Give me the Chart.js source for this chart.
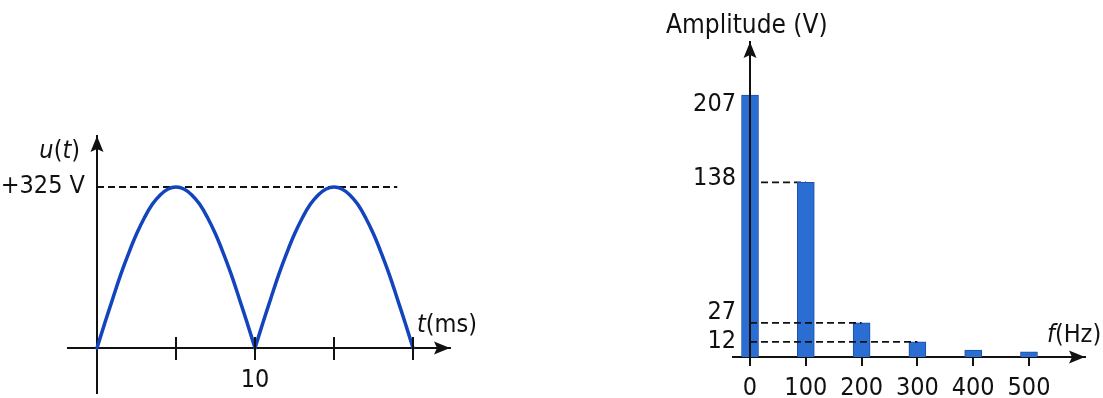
<!DOCTYPE html>
<html><head><meta charset="utf-8">
<script src="https://cdn.jsdelivr.net/npm/chart.js@4/dist/chart.umd.min.js"></script>
<style>
html,body{margin:0;padding:0;background:#fff;overflow:hidden;width:1103px;height:398px}
#wrap{position:relative;width:1103px;height:398px;background:#fff}
canvas{position:absolute;top:0}
#c1{left:0}
#c2{left:560px}
</style></head><body>
<div id="wrap"><canvas id="c1" width="560" height="398"></canvas><canvas id="c2" width="543" height="398"></canvas></div>
<script>
// ---- Left chart: full-wave rectified voltage u(t) ----
const timeMs = [0,0.5,1,1.5,2,2.5,3,3.5,4,4.5,5,5.5,6,6.5,7,7.5,8,8.5,9,9.5,10,
                10.5,11,11.5,12,12.5,13,13.5,14,14.5,15,15.5,16,16.5,17,17.5,18,18.5,19,19.5,20];
const voltageV = [0,51,100,148,191,230,263,290,309,321,325,321,309,290,263,230,191,148,100,51,0,
                  51,100,148,191,230,263,290,309,321,325,321,309,290,263,230,191,148,100,51,0];
const timeTicks = [0,5,10,15,20];
const labeledTimeTicks = [10];
const peakVoltage = 325;
const peakLabel = '+325 V';
const peakLineEndMs = 19;

// ---- Right chart: amplitude spectrum ----
const freqHz = [0,100,200,300,400,500];
const amplitudeV = [207,138,27,12,5.5,4];
const freqTicks = [0,100,200,300,400,500];
const ampTicks = [12,27,138,207];
const guideLevels = [138,27,12];

const FONT = "'DejaVu Sans Condensed','Roboto Condensed','DejaVu Sans',Roboto,sans-serif";
Chart.defaults.font.family = FONT;
Chart.defaults.color = '#111';
const INK = '#111';
const FS = 25;

function arrowHead(ctx, x, y, dir) {
  const L = 16, W = 6.5, N = 3;
  ctx.save();
  ctx.translate(x, y);
  if (dir === 'up') ctx.rotate(-Math.PI / 2);
  ctx.beginPath();
  ctx.moveTo(0, 0);
  ctx.lineTo(-L, -W);
  ctx.lineTo(-L + N, 0);
  ctx.lineTo(-L, W);
  ctx.closePath();
  ctx.fillStyle = INK;
  ctx.fill();
  ctx.restore();
}
function mixedText(ctx, parts, x, y, size, align) {
  ctx.save();
  ctx.textBaseline = 'middle';
  ctx.textAlign = 'left';
  ctx.fillStyle = INK;
  let total = 0;
  const w = parts.map(p => { ctx.font = (p[1] ? 'italic ' : '') + size + 'px ' + FONT; const m = ctx.measureText(p[0]).width; total += m; return m; });
  let cx = align === 'right' ? x - total : x;
  parts.forEach((p, i) => { ctx.font = (p[1] ? 'italic ' : '') + size + 'px ' + FONT; ctx.fillText(p[0], cx, y); cx += w[i]; });
  ctx.restore();
}

// split the curve into arches at its zero points (cusps)
const arches = [];
let start = 0;
voltageV.forEach((v, i) => {
  if (i > 0 && v === 0) { arches.push(timeMs.slice(start, i + 1).map((t, k) => ({ x: t, y: voltageV[start + k] }))); start = i; }
});

new Chart(document.getElementById('c1'), {
  type: 'line',
  data: { datasets: [
    ...arches.map(a => ({ data: a, borderColor: '#1244bd', borderWidth: 3.5, pointRadius: 0, tension: 0.4,
      borderJoinStyle: 'round', borderCapStyle: 'round', order: 0 })),
    { data: [{ x: 0, y: peakVoltage }, { x: peakLineEndMs, y: peakVoltage }], borderColor: INK, borderWidth: 1.8,
      borderDash: [7, 4], pointRadius: 0, order: 1 }
  ]},
  options: {
    responsive: false, animation: false, devicePixelRatio: 1,
    layout: { padding: { left: 68, right: 110, top: 136, bottom: 5 } },
    plugins: { legend: { display: false }, tooltip: { enabled: false } },
    scales: {
      x: { type: 'linear', position: { y: 0 }, min: -1.835, max: 22.34,
        afterBuildTicks: s => { s.ticks = timeTicks.map(v => ({ value: v })); },
        grid: { display: false }, border: { color: INK, width: 2 },
        ticks: { padding: 9, font: { size: FS }, maxRotation: 0, autoSkip: false, color: INK,
          callback: v => labeledTimeTicks.includes(v) ? String(v) : '' } },
      y: { type: 'linear', position: { x: 0 }, min: -90.8, max: 427.9,
        afterBuildTicks: s => { s.ticks = [{ value: peakVoltage }]; },
        grid: { display: false }, border: { color: INK, width: 2 }, ticks: { display: false } }
    }
  },
  plugins: [{ id: 'deco1', afterDraw(chart) {
    const { ctx, scales: { x, y } } = chart;
    const axX = x.getPixelForValue(0), axY = y.getPixelForValue(0);
    ctx.save();
    ctx.strokeStyle = INK; ctx.lineWidth = 2;
    timeTicks.filter(v => v !== 0).forEach(v => {
      const px = Math.round(x.getPixelForValue(v));
      ctx.beginPath(); ctx.moveTo(px, axY - 11); ctx.lineTo(px, axY + 12); ctx.stroke();
    });
    ctx.restore();
    arrowHead(ctx, x.right, axY, 'right');
    arrowHead(ctx, axX, y.top, 'up');
    ctx.save();
    ctx.fillStyle = INK; ctx.textBaseline = 'middle'; ctx.textAlign = 'right';
    ctx.font = FS + 'px ' + FONT;
    ctx.fillText(peakLabel, axX - 12, y.getPixelForValue(peakVoltage));
    ctx.restore();
    mixedText(ctx, [['u', true], ['(', false], ['t', true], [')', false]], axX - 17, y.top + 15, FS, 'right');
    mixedText(ctx, [['t', true], ['(ms)', false]], x.right - 33, axY - 23, FS, 'left');
  }}]
});

new Chart(document.getElementById('c2'), {
  type: 'bar',
  data: { datasets: [
    { type: 'bar', data: freqHz.map((f, i) => ({ x: f, y: amplitudeV[i] })), backgroundColor: '#2a6ed3',
      borderColor: '#1b4fa8', borderWidth: 1, barThickness: 17, order: 1 },
    ...guideLevels.map((lv, k) => ({
      type: 'line', data: [{ x: 0, y: lv }, { x: freqHz[amplitudeV.indexOf(lv)], y: lv }],
      borderColor: INK, borderWidth: 1.8, borderDash: [7, 4], pointRadius: 0, order: k === 0 ? 2 : 0 }))
  ]},
  options: {
    responsive: false, animation: false, devicePixelRatio: 1,
    layout: { padding: { left: 173, right: 18, top: 42, bottom: 41 } },
    plugins: { legend: { display: false }, tooltip: { enabled: false } },
    scales: {
      x: { type: 'linear', position: { y: 0 }, min: -30.5, max: 600.4, offset: false,
        afterBuildTicks: s => { s.ticks = freqTicks.map(v => ({ value: v })); },
        grid: { display: true, drawOnChartArea: false, drawTicks: true, tickLength: 8, color: INK, lineWidth: 2, offset: false },
        border: { color: INK, width: 2 },
        ticks: { padding: 8, font: { size: FS }, maxRotation: 0, autoSkip: false, color: INK } },
      y: { type: 'linear', position: { x: 0 }, min: 0, max: 249,
        afterBuildTicks: s => { s.ticks = ampTicks.map(v => ({ value: v })); },
        grid: { display: false }, border: { color: INK, width: 2, z: 1 }, ticks: { display: false } }
    }
  },
  plugins: [{ id: 'deco2', afterDraw(chart) {
    const { ctx, scales: { x, y } } = chart;
    const axX = x.getPixelForValue(0), axY = y.getPixelForValue(0);
    arrowHead(ctx, x.right, axY, 'right');
    arrowHead(ctx, axX, y.top, 'up');
    const nudge = { 207: 9, 138: -4, 27: -10 };
    ctx.save();
    ctx.fillStyle = INK; ctx.textBaseline = 'middle'; ctx.textAlign = 'right';
    ctx.font = FS + 'px ' + FONT;
    ampTicks.forEach(v => ctx.fillText(String(v), axX - 14, y.getPixelForValue(v) + (nudge[v] || 0)));
    ctx.textAlign = 'left';
    ctx.font = '26px ' + FONT;
    ctx.fillText('Amplitude (V)', axX - 84, y.top - 16);
    ctx.restore();
    mixedText(ctx, [['f', true], ['(Hz)', false]], x.right - 38, axY - 22, FS, 'left');
  }}]
});
</script>
</body></html>
